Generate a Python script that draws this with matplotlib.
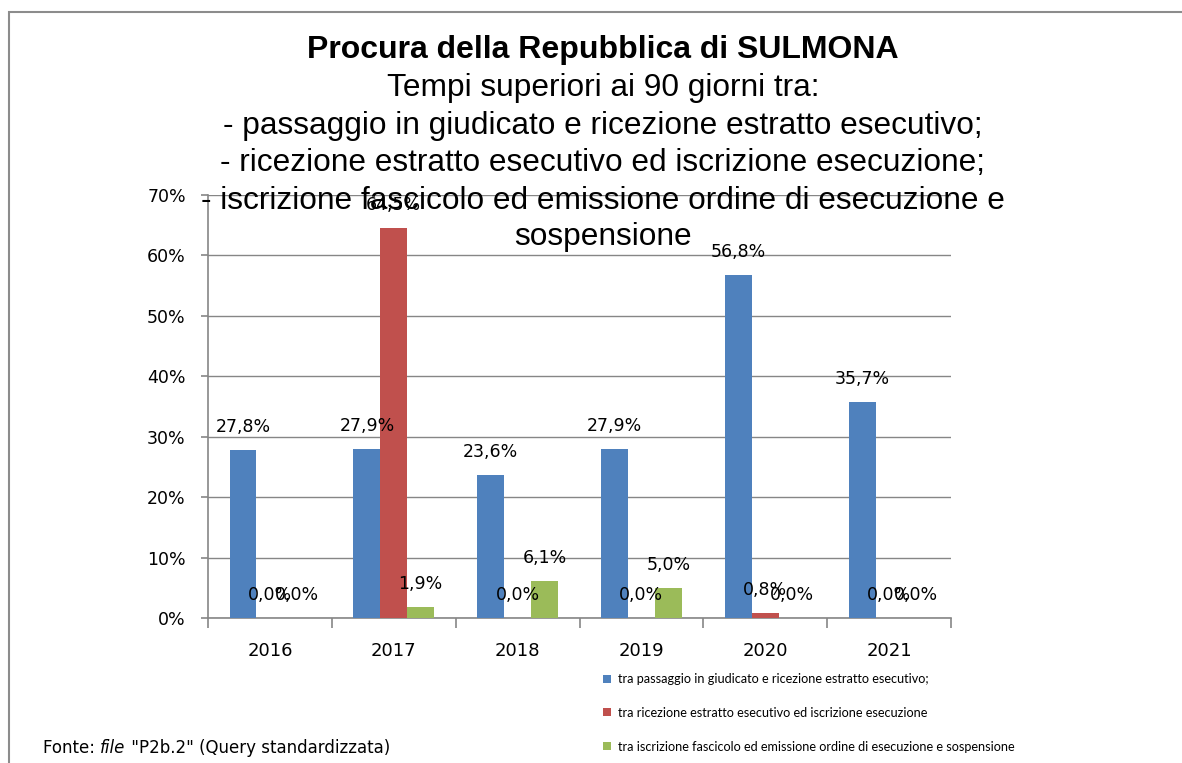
import numpy as np
import matplotlib.pyplot as plt
from matplotlib.patches import Rectangle
from matplotlib.ticker import FuncFormatter, FixedLocator

# Data
years = ['2016', '2017', '2018', '2019', '2020', '2021']
passaggio_ricezione = [27.8, 27.9, 23.6, 27.9, 56.8, 35.7]
ricezione_iscrizione = [0.0, 64.5, 0.0, 0.0, 0.8, 0.0]
iscrizione_emissione = [0.0, 1.9, 6.1, 5.0, 0.0, 0.0]

series_labels = [
    'tra passaggio in giudicato e ricezione estratto esecutivo;',
    'tra ricezione estratto esecutivo ed iscrizione esecuzione',
    'tra iscrizione fascicolo ed emissione ordine di esecuzione e sospensione',
]
colors = ['#4F81BD', '#C0504D', '#9BBB59']

title_lines = [
    'Tempi superiori ai 90 giorni tra:',
    '- passaggio in giudicato e ricezione estratto esecutivo;',
    '- ricezione estratto esecutivo ed iscrizione esecuzione;',
    '- iscrizione fascicolo ed emissione ordine di esecuzione e',
    'sospensione',
]

W, H = 1182, 763
fig = plt.figure(figsize=(W / 100, H / 100), dpi=100)
fig.patch.set_facecolor('white')

# outer chart border (cut at right/bottom)
fig.patches.append(Rectangle((9 / W, -0.1), 1.2, 1 - 12 / H + 0.1, transform=fig.transFigure,
                             fill=False, edgecolor='#8c8c8c', linewidth=1.5))

ax = fig.add_axes([208 / W, 1 - 618 / H, (951 - 208) / W, (618 - 195) / H])

x = np.arange(len(years))
bw = 0.217
all_series = [passaggio_ricezione, ricezione_iscrizione, iscrizione_emissione]
bars = []
for i, (vals, col, lab) in enumerate(zip(all_series, colors, series_labels)):
    b = ax.bar(x + (i - 1) * bw, vals, bw, color=col, label=lab, zorder=3)
    bars.append(b)
    for xi, v in zip(x + (i - 1) * bw, vals):
        ax.annotate(f'{v:.1f}%'.replace('.', ','), (xi, v), xytext=(0, 16.5),
                    textcoords='offset points', ha='center', va='center',
                    fontsize=12.5, family='DejaVu Sans', zorder=5)

ax.set_xlim(-0.5, len(years) - 0.5)
ax.set_ylim(0, 70)
ax.yaxis.set_major_locator(FixedLocator(np.arange(0, 71, 10)))
ax.yaxis.set_major_formatter(FuncFormatter(lambda v, p: f'{v:.0f}%'))
ax.grid(axis='y', color='#868686', linewidth=1, zorder=0)
ax.set_axisbelow(True)

ax.set_xticks(x)
ax.set_xticklabels(years, fontsize=13, family='DejaVu Sans')
ax.set_xticks(np.arange(-0.5, len(years)), minor=True)
ax.tick_params(axis='x', which='major', length=0, pad=17)
ax.tick_params(axis='x', which='minor', length=7, color='#868686', width=1.2)
ax.tick_params(axis='y', length=5, color='#868686', width=1.2, pad=11)
for lab in ax.get_yticklabels():
    lab.set_family('DejaVu Sans')
    lab.set_fontsize(12.5)

for s in ['top', 'right']:
    ax.spines[s].set_visible(False)
for s in ['left', 'bottom']:
    ax.spines[s].set_color('#868686')
    ax.spines[s].set_linewidth(1.2)

# title
cx = 603 / W
fig.text(cx, 1 - 50 / H, 'Procura della Repubblica di SULMONA', ha='center', va='center',
         fontsize=23, fontweight='bold', family='Liberation Sans', zorder=10)
for line, yy in zip(title_lines, [88, 126, 163, 201, 237]):
    fig.text(cx, 1 - yy / H, line, ha='center', va='center', fontsize=22.8,
             family='Liberation Sans', zorder=10)

# legend
fig.legend(handles=bars, labels=series_labels, loc='upper left',
           bbox_to_anchor=(598 / W, 1 - 668 / H), frameon=False,
           prop={'family': 'Lato', 'size': 9.1}, handlelength=0.6, handleheight=0.6,
           handletextpad=0.6, labelspacing=1.72, borderaxespad=0)

# source note
fig.canvas.draw()
r = fig.canvas.get_renderer()
xpos = 43 / W
ypos = 1 - 748 / H
for txt, style in [('Fonte: ', 'normal'), ('file', 'italic'),
                   (' "P2b.2" (Query standardizzata)', 'normal')]:
    t = fig.text(xpos, ypos, txt, ha='left', va='center', fontsize=12,
                 family='DejaVu Sans', style=style)
    bb = t.get_window_extent(r)
    xpos += bb.width / W

fig.savefig('out.png', dpi=100)
